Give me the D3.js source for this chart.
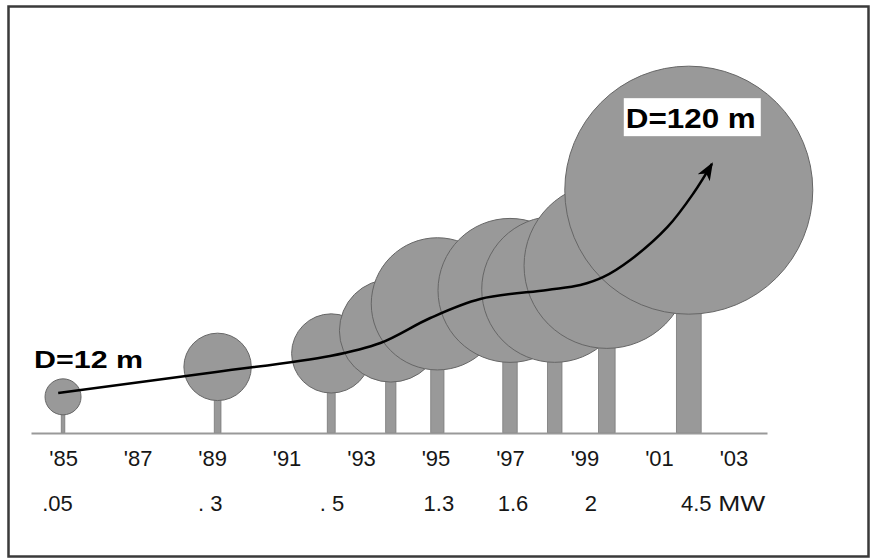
<!DOCTYPE html>
<html><head><meta charset="utf-8">
<script src="https://cdn.jsdelivr.net/npm/d3@7"></script>
<style>html,body{margin:0;padding:0;background:#fff;} svg{display:block;}</style>
</head><body>
<svg id="chart" width="875" height="559"></svg>
<script>
// ---- data ----
const turbineYears   = [1985, 1989.15, 1992.2, 1993.8, 1995.05, 1997, 1998.2, 1999.6, 2001.8];
const rotorDiameters = [12, 28, 34, 46, 61, 67, 68, 78, 120];          // m
const hubHeights     = [17.5, 32, 38.5, 49.5, 62.5, 69, 69.5, 81, 117.5]; // m
const yearTicks      = [1985, 1987, 1989, 1991, 1993, 1995, 1997, 1999, 2001, 2003];
const yearTickLabels = ["'85", "'87", "'89", "'91", "'93", "'95", "'97", "'99", "'01", "'03"];
const powerYears     = [1984.85, 1988.95, 1992.22, 1995.09, 1997.08, 1999.17, 2002];
const powerLabels    = [".05", ". 3", ". 5", "1.3", "1.6", "2", "4.5"];
const powerUnit      = "MW";
const trendYears     = [1984.87, 1989.11, 1992.17, 1993.52, 1994.86, 1996.2, 1998.0, 1998.89, 1999.51, 2000.23, 2001.23, 2001.93, 2002.42];
const trendHeights   = [19.35, 29.5, 37.26, 43.55, 55.65, 64.84, 69.2, 71.6, 75.5, 83.7, 99.7, 116.1, 130.2];
const diameterLabels = ["D=12 m", "D=120 m"];

// ---- layout ----
const svg = d3.select("#chart");
const font = "'Liberation Sans', Arial, Helvetica, sans-serif";
const gray = "#999999";
const textColor = "#161616";

svg.append("rect").attr("x", 8.5).attr("y", 6.5).attr("width", 860).attr("height", 550)
  .attr("fill", "#fff").attr("stroke", "#3a3a3a").attr("stroke-width", 2.5);

const x = d3.scaleLinear().domain([1984.14, 2003.9]).range([31, 767]);
const y = d3.scaleLinear().domain([0, 120]).range([433, 185]);
const r = d3.scaleLinear().domain([12, 120]).range([18, 124]);

const trees = turbineYears.map((yr, i) => ({year: yr, d: rotorDiameters[i], h: hubHeights[i]}));

// stems
svg.append("g").selectAll("rect").data(trees).join("rect")
  .attr("x", d => x(d.year) - r(d.d) * 0.1)
  .attr("width", d => r(d.d) * 0.2)
  .attr("y", d => y(d.h))
  .attr("height", d => y(0) - y(d.h))
  .attr("fill", gray).attr("stroke", "#7a7a7a").attr("stroke-width", 0.8);

// rotors
svg.append("g").selectAll("circle").data(trees).join("circle")
  .attr("cx", d => x(d.year)).attr("cy", d => y(d.h)).attr("r", d => r(d.d))
  .attr("fill", gray).attr("stroke", "#666").attr("stroke-width", 1);

// axis
const axis = d3.axisBottom(x).tickValues(yearTicks)
  .tickFormat((d, i) => yearTickLabels[i]).tickSize(0).tickSizeOuter(0).tickPadding(17);
const ag = svg.append("g").attr("transform", `translate(0,${y(0)})`).call(axis);
ag.select(".domain").attr("stroke", "#999").attr("stroke-width", 2);
ag.selectAll("text").attr("font-family", font).attr("font-size", 22).attr("fill", textColor);

// power row
svg.append("g").selectAll("text").data(powerYears).join("text")
  .attr("x", d => x(d)).attr("y", 511).attr("text-anchor", "middle")
  .attr("font-family", font).attr("font-size", 22).attr("fill", textColor)
  .text((d, i) => powerLabels[i]);
svg.append("text").attr("x", x(powerYears[powerYears.length - 1]) + 22).attr("y", 511)
  .attr("font-family", font).attr("font-size", 22).attr("fill", textColor)
  .attr("textLength", 47).attr("lengthAdjust", "spacingAndGlyphs").text(powerUnit);

// trend arrow
const defs = svg.append("defs");
defs.append("marker").attr("id", "arrow").attr("markerUnits", "userSpaceOnUse")
  .attr("viewBox", "0 0 18 16").attr("markerWidth", 18).attr("markerHeight", 16)
  .attr("refX", 16).attr("refY", 8).attr("orient", "auto")
  .append("path").attr("d", "M0,1 L18,8 L0,15 L5,8 Z").attr("fill", "#000");

const line = d3.line().x(d => x(d[0])).y(d => y(d[1])).curve(d3.curveCatmullRom.alpha(0.5));
svg.append("path").datum(trendYears.map((yr, i) => [yr, trendHeights[i]]))
  .attr("d", line).attr("fill", "none").attr("stroke", "#000").attr("stroke-width", 2.5)
  .attr("marker-end", "url(#arrow)");

// diameter labels
const t0 = trees[0], tN = trees[trees.length - 1];
svg.append("text").attr("x", x(t0.year) - 29).attr("y", y(t0.h) - r(t0.d) - 11)
  .attr("font-family", font).attr("font-weight", "bold").attr("font-size", 24)
  .attr("textLength", 109).attr("lengthAdjust", "spacingAndGlyphs").attr("fill", "#000")
  .text(diameterLabels[0]);

const boxTop = y(tN.h) - r(tN.d) + 32;
svg.append("rect").attr("x", x(tN.year) - 65).attr("y", boxTop).attr("width", 137).attr("height", 38)
  .attr("fill", "#fff");
svg.append("text").attr("x", x(tN.year) - 63).attr("y", boxTop + 30)
  .attr("font-family", font).attr("font-weight", "bold").attr("font-size", 28)
  .attr("textLength", 130).attr("lengthAdjust", "spacingAndGlyphs").attr("fill", "#000")
  .text(diameterLabels[1]);
</script>
</body></html>
